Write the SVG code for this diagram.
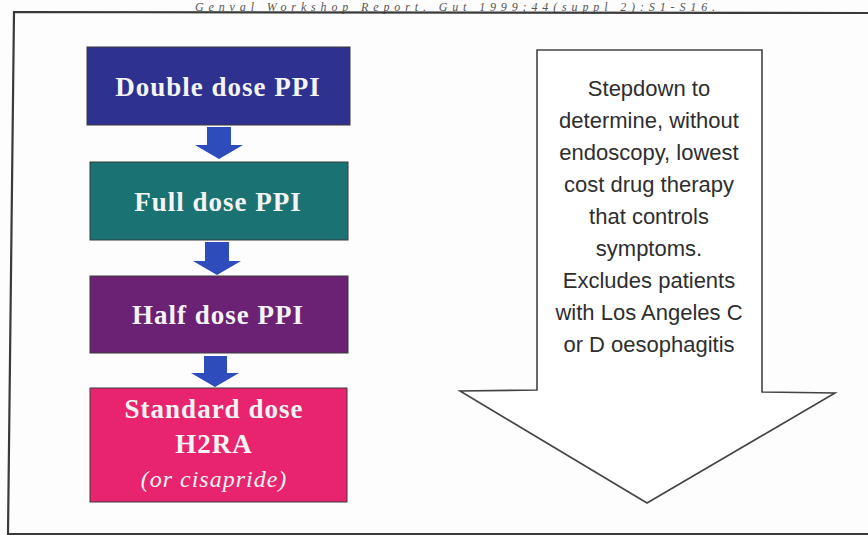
<svg xmlns="http://www.w3.org/2000/svg" width="868" height="535" viewBox="0 0 868 535">
<style>
.box{stroke:#3a3a3a;stroke-width:1}
.bt{font-family:"Liberation Serif","Times New Roman",serif;font-weight:bold;font-size:27px;fill:#f4f4f4;text-anchor:middle;letter-spacing:1px}
.it{font-family:"Liberation Serif","Times New Roman",serif;font-style:italic;font-size:24px;fill:#f4f4f4;text-anchor:middle;letter-spacing:1px}
.st{font-family:"Liberation Sans",Arial,sans-serif;font-size:22px;fill:#2e2e2e;text-anchor:middle}
.dn{fill:#2f4cbc}
</style>
<rect x="0" y="0" width="868" height="535" fill="#fdfdfd"/>
<text x="455" y="10.5" font-family="'Liberation Serif',serif" font-style="italic" font-size="12" fill="#555" text-anchor="middle" textLength="520" lengthAdjust="spacing">Genval Workshop Report. Gut 1999;44(suppl 2):S1-S16.</text>
<path d="M870,13 L14,12 L8,534 L870,534" fill="none" stroke="#3a3a3a" stroke-width="2.2"/>
<g id="double">
<rect class="box" x="87" y="47" width="263" height="78" fill="#2e3190"/>
<text class="bt" x="218" y="96">Double dose PPI</text>
</g>
<g id="full">
<rect class="box" x="90" y="162" width="258" height="78" fill="#1b7272"/>
<text class="bt" x="218" y="211">Full dose PPI</text>
</g>
<g id="half">
<rect class="box" x="90" y="276" width="258" height="77" fill="#6b2174"/>
<text class="bt" x="218" y="324">Half dose PPI</text>
</g>
<g id="h2ra">
<rect class="box" x="90" y="388" width="257" height="114" fill="#e8246e"/>
<text class="bt" x="214" y="418">Standard dose</text>
<text class="bt" x="214" y="453">H2RA</text>
<text class="it" x="214" y="487">(or cisapride)</text>
</g>
<g id="stepdown">
<path d="M537,50 L762,50 L762,392 L835,393 L647,503 L460,391 L537,390 Z" fill="#ffffff" stroke="#444" stroke-width="1.6"/>
<text class="st" x="649" y="96">Stepdown to</text>
<text class="st" x="649" y="128">determine, without</text>
<text class="st" x="649" y="160">endoscopy, lowest</text>
<text class="st" x="649" y="192">cost drug therapy</text>
<text class="st" x="649" y="224">that controls</text>
<text class="st" x="649" y="256">symptoms.</text>
<text class="st" x="649" y="288">Excludes patients</text>
<text class="st" x="649" y="320">with Los Angeles C</text>
<text class="st" x="649" y="352">or D oesophagitis</text>
</g>
<g id="connectors">
<path class="dn" d="M207,127 L231,127 L231,145 L243,145 L219,159 L195,145 L207,145 Z"/>
<path class="dn" d="M205,242 L229,242 L229,261 L241,261 L217,275 L193,261 L205,261 Z"/>
<path class="dn" d="M204,356 L227,356 L227,373 L239,373 L215,387 L191,373 L204,373 Z"/>
</g>
</svg>
